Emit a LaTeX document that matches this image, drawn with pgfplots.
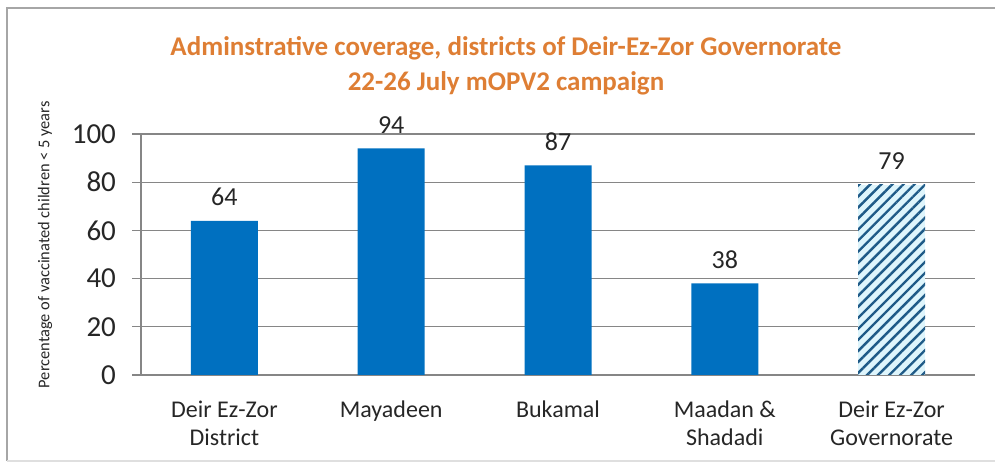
\documentclass[border=0pt]{standalone}
\usepackage{fontspec}
\setmainfont{Carlito}
\usepackage{pgfplots}
\pgfplotsset{compat=1.18}
\usetikzlibrary{patterns.meta}
\definecolor{barblue}{RGB}{0,112,192}
\definecolor{titleorange}{RGB}{222,126,52}
\definecolor{gridgray}{RGB}{134,134,134}
\definecolor{hatchblue}{RGB}{30,90,135}
\definecolor{hatchbg}{RGB}{222,245,252}
\begin{document}
\begin{tikzpicture}[x=1pt,y=1pt]
\path[use as bounding box] (0,0) rectangle (497.5,235);
\draw[gray!70, line width=0.8pt] (3.5,4.5) -- (3.5,231) -- (497.5,231);
\draw[gray!25, line width=0.6pt] (3.5,4.5) -- (497.5,4.5);
\node[text=titleorange, font=\fontsize{13.5}{17.5}\selectfont\bfseries, align=center] at (253,202.25)
  {Adminstrative coverage, districts of Deir-Ez-Zor Governorate\\22-26 July mOPV2 campaign};
\begin{axis}[
  at={(70.5pt,47.5pt)}, anchor=south west,
  scale only axis, width=417pt, height=120.5pt,
  xmin=-0.5, xmax=4.5, ymin=0, ymax=100,
  ybar, bar width=33.5pt, bar shift=0pt,
  axis lines=left, axis line style={-, gridgray, line width=0.6pt},
  ytick={0,20,40,60,80,100},
  ymajorgrids, grid style={gridgray, line width=0.6pt},
  tick align=outside, major tick length=4.5pt,
  ytick style={gridgray, line width=0.6pt},
  xtick={0,1,2,3,4},
  xtick style={draw=none},
  minor xtick={-0.5,0.5,1.5,2.5,3.5,4.5},
  minor tick length=4.5pt,
  minor x tick style={gridgray, line width=0.6pt},
  xticklabels={{Deir Ez-Zor\\District},{Mayadeen},{Bukamal},{Maadan \&\\Shadadi},{Deir Ez-Zor\\Governorate}},
  xticklabel style={align=center, font=\fontsize{12}{14}\selectfont, text=black!85, anchor=north, yshift=-5pt},
  yticklabel style={font=\fontsize{14.5}{16}\selectfont, text=black!85, xshift=-4.5pt},
  /pgf/number format/assume math mode=true,
  ylabel={Percentage of vaccinated children < 5 years},
  ylabel style={at={(axis description cs:-0.115,0.54)}, anchor=center, font=\fontsize{8.2}{9}\selectfont, text=black!85},
  nodes near coords,
  nodes near coords style={font=\fontsize{13}{14}\selectfont, text=black!85, yshift=4pt},
]
\addplot[fill=barblue, draw=none] coordinates {(0,64) (1,94) (2,87) (3,38)};
\addplot[fill=hatchbg, draw=none, postaction={pattern={Lines[angle=45,distance=3.9pt,line width=1.2pt]}, pattern color=hatchblue}] coordinates {(4,79)};
\end{axis}
\end{tikzpicture}
\end{document}
